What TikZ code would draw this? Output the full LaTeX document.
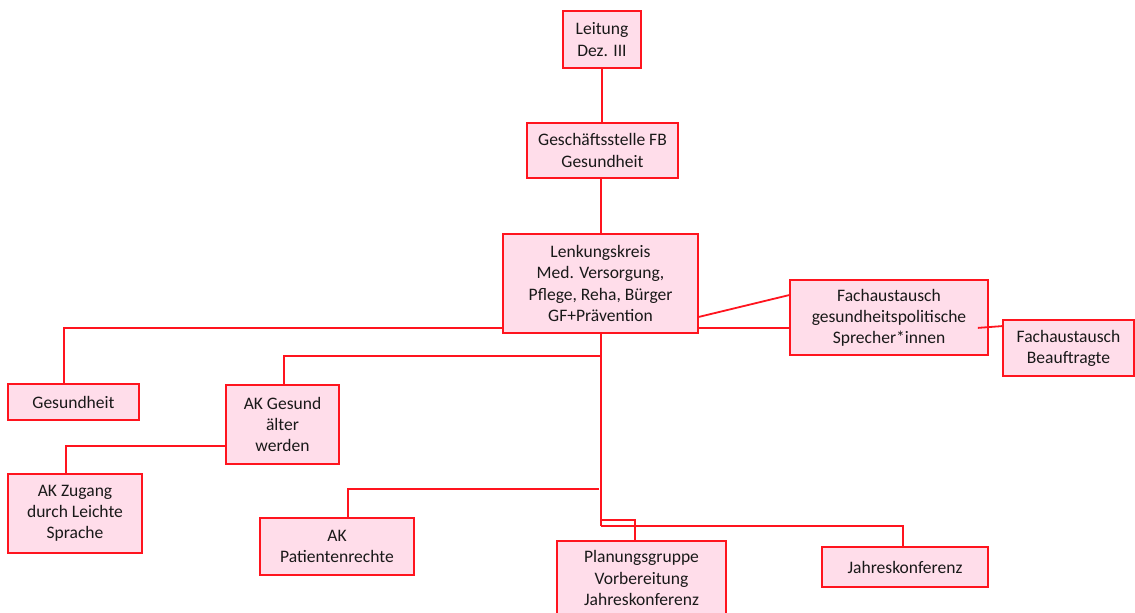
\documentclass[tikz,border=0pt]{standalone}
\usepackage{fontspec}
\setmainfont{Carlito}
\usetikzlibrary{calc}
\definecolor{boxred}{RGB}{255,20,30}
\definecolor{boxfill}{RGB}{255,221,234}
\tikzset{
  orgbox/.style={draw=boxred, fill=boxfill, line width=1.8bp, inner sep=0pt,
    align=center, font=\fontsize{17.6}{21.2}\selectfont, text=black!90},
  link/.style={draw=boxred, line width=1.8bp}
}
\begin{document}
\begin{tikzpicture}[x=1bp,y=-1bp]
\useasboundingbox (0,0) rectangle (1135,613);
\node[orgbox, minimum width=78bp, minimum height=57bp] (leit) at (602,39.5) {Leitung\\Dez. III};
\node[orgbox, minimum width=151bp, minimum height=55bp] (gs) at (602.5,150.5) {Geschäftsstelle FB\\Gesundheit};
\node[orgbox, minimum width=195bp, minimum height=99bp] (lk) at (600.5,283.5) {Lenkungskreis\\Med. Versorgung,\\Pflege, Reha, Bürger\\GF+Prävention};
\node[orgbox, minimum width=198bp, minimum height=75bp] (fg) at (889,317.5) {Fachaustausch\\gesundheitspolitische\\Sprecher*innen};
\node[orgbox, minimum width=131bp, minimum height=56bp] (fb) at (1068.5,348) {Fachaustausch\\Beauftragte};
\node[orgbox, minimum width=131bp, minimum height=36bp] (ges) at (73.5,402) {Gesundheit};
\node[orgbox, minimum width=113bp, minimum height=79bp] (akg) at (282.5,424.5) {AK Gesund\\älter\\werden};
\node[orgbox, minimum width=134bp, minimum height=79bp] (akz) at (75,513.5) {AK Zugang\\durch Leichte\\Sprache};
\node[orgbox, minimum width=154bp, minimum height=57bp] (akp) at (337,546.5) {AK\\Patientenrechte};
\node[orgbox, minimum width=169bp, minimum height=74bp] (plg) at (641.5,578) {Planungsgruppe\\Vorbereitung\\Jahreskonferenz};
\node[orgbox, minimum width=166bp, minimum height=40bp] (jk) at (905,567) {Jahreskonferenz};

\coordinate (trunkend) at (601,526);
\coordinate (b1) at (601,356);
\coordinate (b2) at (599,489);
\coordinate (b3) at (601,520);

\draw[link] (leit.south) -- (leit.south |- gs.north);
\draw[link] (gs.south -| b1) -- (lk.north -| b1);
\draw[link] (lk.south -| trunkend) -- (trunkend);
\draw[link] ([yshift=6bp]lk.south west) -| ([xshift=57bp]ges.north west);
\draw[link] ([yshift=17bp]lk.south east) -- ([yshift=-16bp]fg.north west);
\draw[link] ([yshift=6bp]lk.south east) -- ([yshift=6bp]lk.south east -| fg.west);
\draw[link] ([yshift=28bp,xshift=-11bp]fg.south east) -- ([yshift=-7bp]fb.north west);
\draw[link] (b1) -| ([xshift=1.5bp]akg.north);
\draw[link] ([yshift=19bp]akg.south west) -| ([xshift=59bp]akz.north west);
\draw[link] (b2) -| ([xshift=89bp]akp.north west);
\draw[link] (b3) -| ([xshift=79bp]plg.north west);
\draw[link] (trunkend) -| ([xshift=-2bp]jk.north);
\end{tikzpicture}
\end{document}
